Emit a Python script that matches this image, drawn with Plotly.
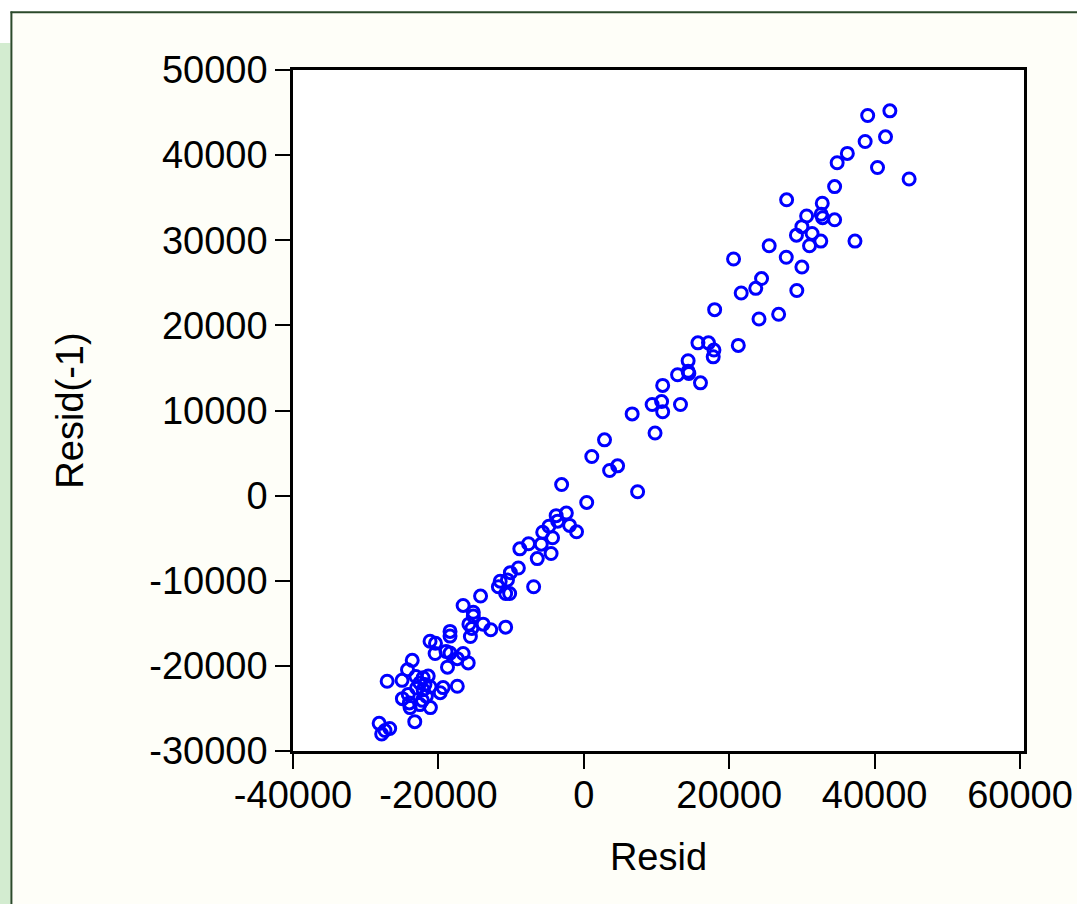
import plotly.graph_objects as go

# Data (Resid vs Resid(-1))
resid = [
    39050, 42100, 38700, 41500, 36250, 34850, 40400, 44750, 34500, 27900,
    32800, 32650, 32850, 34500, 30650, 30000, 29250, 31400, 32600, 31050,
    37300, 25500, 27850, 20600, 30000, 24450, 23650, 21650, 29300, 18000,
    26800, 24100, 15700, 17150, 17900, 17800, 21250, 14350, 14350, 14450,
    12900, 16050, 10850, 9400, 10700, 10850, 13300, 6650, 9800, 2850,
    1100, 4650, 3550, 7400, -3050, 400, -3800, -2400, -3600, -4800,
    -1950, -1000, -5650, -4300, -7600, -5850, -8800, -4500, -6400, -9000,
    -10100, -10500, -11500, -11750, -6900, -10750, -10200, -14200, -16600, -15200,
    -15200, -15800, -15400, -13850, -12800, -10750, -18400, -18400, -15600, -21150,
    -20400, -20450, -18950, -18400, -16600, -17400, -15900, -18750, -23600, -24250,
    -27050, -25000, -23100, -22100, -21400, -22550, -21850, -23000, -22100, -21150,
    -19350, -19750, -17400, -24150, -24950, -24000, -23900, -22200, -21650, -22550,
    -21100, -23250, -28150, -26700, -27350, -27800,
]
resid_lag1 = [
    44650, 45200, 41600, 42150, 40200, 39100, 38550, 37200, 36300, 34750,
    34350, 33050, 32650, 32400, 32850, 31600, 30600, 30800, 29900, 29350,
    29900, 29350, 28000, 27800, 26850, 25500, 24350, 23800, 24100, 21850,
    21300, 20750, 17950, 17950, 17100, 16300, 17650, 15850, 14600, 14350,
    14200, 13250, 12950, 10700, 11050, 9850, 10700, 9600, 7350, 6550,
    4600, 3500, 2950, 450, 1300, -800, -2350, -2050, -3000, -3600,
    -3500, -4250, -4300, -4950, -5650, -5700, -6250, -6800, -7400, -8500,
    -9050, -9900, -10050, -10700, -10700, -11500, -11500, -11800, -12900, -13700,
    -14150, -15100, -15600, -15100, -15750, -15450, -15950, -16500, -16550, -17100,
    -17350, -18550, -18300, -18500, -18550, -19150, -19650, -20150, -19350, -20450,
    -21800, -21700, -21250, -21400, -21200, -22000, -22200, -22600, -22800, -22450,
    -22550, -23150, -22400, -23350, -23850, -24350, -24900, -24050, -23550, -24550,
    -24900, -26550, -26750, -27350, -27600, -28000,
]

x_ticks = [-40000, -20000, 0, 20000, 40000, 60000]
x_tick_labels = ["-40000", "-20000", "0", "20000", "40000", "60000"]
y_ticks = [-30000, -20000, -10000, 0, 10000, 20000, 30000, 40000, 50000]
y_tick_labels = ["-30000", "-20000", "-10000", "0", "10000", "20000", "30000", "40000", "50000"]

W, H = 1077, 904
ML, MR, MT, MB = 293, 53, 70, 153
PW, PH = W - ML - MR, H - MT - MB

def px(xp):
    return (xp - ML) / PW

def py(yp):
    return (H - MB - yp) / PH

FONT = "Liberation Sans, Arial, sans-serif"

fig = go.Figure()
fig.add_trace(go.Scatter(
    x=resid, y=resid_lag1, mode="markers",
    marker=dict(symbol="circle-open", size=12, color="#0000ff",
                line=dict(width=3, color="#0000ff")),
    showlegend=False, hoverinfo="x+y",
))

shapes = [
    dict(type="rect", xref="paper", yref="paper", x0=px(-5), x1=px(W + 5), y0=py(-5), y1=py(11.5),
         fillcolor="#ffffff", line=dict(width=0), layer="below"),
    dict(type="rect", xref="paper", yref="paper", x0=px(-5), x1=px(10.5), y0=py(-5), y1=py(43),
         fillcolor="#ffffff", line=dict(width=0), layer="below"),
    dict(type="rect", xref="paper", yref="paper", x0=px(-5), x1=px(10.5), y0=py(43), y1=py(H + 5),
         fillcolor="#d3ecd0", line=dict(width=0), layer="below"),
    dict(type="line", xref="paper", yref="paper", x0=px(10.5), x1=px(W + 5), y0=py(12.3), y1=py(12.3),
         line=dict(color="#2b4a2b", width=2)),
    dict(type="line", xref="paper", yref="paper", x0=px(11.4), x1=px(11.4), y0=py(11.5), y1=py(H + 5),
         line=dict(color="#2b4a2b", width=2)),
]

fig.update_layout(
    width=W, height=H,
    margin=dict(l=ML, r=MR, t=MT, b=MB, pad=0, autoexpand=False),
    paper_bgcolor="#fefef8",
    plot_bgcolor="#ffffff",
    font=dict(family=FONT, size=38, color="#000000"),
    shapes=shapes,
    showlegend=False,
)

fig.update_xaxes(
    range=[-40000, 60550], tickvals=x_ticks, ticktext=x_tick_labels,
    showgrid=False, zeroline=False, automargin=False,
    showline=True, linecolor="#000000", linewidth=2.5, mirror=True,
    ticks="outside", ticklen=15, tickwidth=2, tickcolor="#000000",
    ticklabelstandoff=-6,
    tickfont=dict(family=FONT, size=38, color="#000000"),
    title=dict(text="Resid", font=dict(family=FONT, size=38, color="#000000"), standoff=29),
)
fig.update_yaxes(
    range=[-30000, 50000], tickvals=y_ticks, ticktext=y_tick_labels,
    showgrid=False, zeroline=False, automargin=False,
    showline=True, linecolor="#000000", linewidth=2.5, mirror=True,
    ticks="outside", ticklen=15, tickwidth=2, tickcolor="#000000",
    ticklabelstandoff=0,
    tickfont=dict(family=FONT, size=38, color="#000000"),
    title=dict(text="Resid(-1)", font=dict(family=FONT, size=38, color="#000000"), standoff=55),
)

fig.write_html("out.html", config={"displayModeBar": False},
               post_script="document.body.style.margin='0';")
